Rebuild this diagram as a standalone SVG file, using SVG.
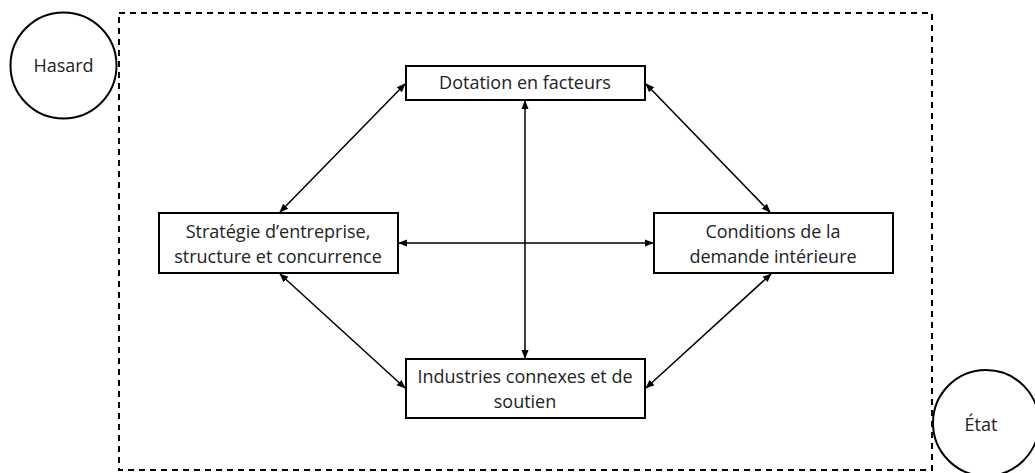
<svg xmlns="http://www.w3.org/2000/svg" width="1035" height="473" viewBox="0 0 1035 473">
<style>
.box{fill:#fff;stroke:#000;stroke-width:2}
.circ{fill:#fff;stroke:#000;stroke-width:2}
.t{font-family:"Open Sans","Liberation Sans",sans-serif;font-size:18px;fill:#222;text-anchor:middle}
.c{stroke:#000;stroke-width:1.5;fill:none;marker-start:url(#ah);marker-end:url(#ah)}
</style>
<defs>
<marker id="ah" viewBox="0 0 10 10" refX="9" refY="5" markerWidth="6" markerHeight="6" orient="auto-start-reverse" markerUnits="strokeWidth">
<path d="M0,1 L10,5 L0,9 z" fill="#000"/>
</marker>
</defs>
<rect width="1035" height="473" fill="#fff"/>
<rect id="frame" x="119" y="13" width="813" height="457" fill="none" stroke="#000" stroke-width="2" stroke-dasharray="6,5"/>
<g id="connectors">
<line class="c" x1="525" y1="101" x2="525" y2="358"/>
<line class="c" x1="399" y1="243" x2="653" y2="243"/>
<line class="c" x1="280" y1="212" x2="405" y2="84"/>
<line class="c" x1="770" y1="212" x2="646" y2="84"/>
<line class="c" x1="280" y1="274" x2="405" y2="388"/>
<line class="c" x1="771" y1="274" x2="646" y2="388"/>
</g>
<g id="hasard">
<circle class="circ" cx="63.5" cy="65.5" r="53"/>
<text class="t" x="63.5" y="72">Hasard</text>
</g>
<g id="etat">
<circle class="circ" cx="986" cy="423" r="53"/>
<text class="t" x="981" y="431">État</text>
</g>
<g id="dotation">
<rect class="box" x="406" y="66" width="239" height="34"/>
<text class="t" x="525" y="89">Dotation en facteurs</text>
</g>
<g id="strategie">
<rect class="box" x="159" y="213" width="239" height="60"/>
<text class="t" x="278" y="238">Stratégie d’entreprise,</text>
<text class="t" x="278" y="263">structure et concurrence</text>
</g>
<g id="conditions">
<rect class="box" x="654" y="213" width="239" height="60"/>
<text class="t" x="773" y="238">Conditions de la</text>
<text class="t" x="773" y="263">demande intérieure</text>
</g>
<g id="industries">
<rect class="box" x="406" y="359" width="239" height="59"/>
<text class="t" x="525" y="383">Industries connexes et de</text>
<text class="t" x="525" y="408">soutien</text>
</g>
</svg>
